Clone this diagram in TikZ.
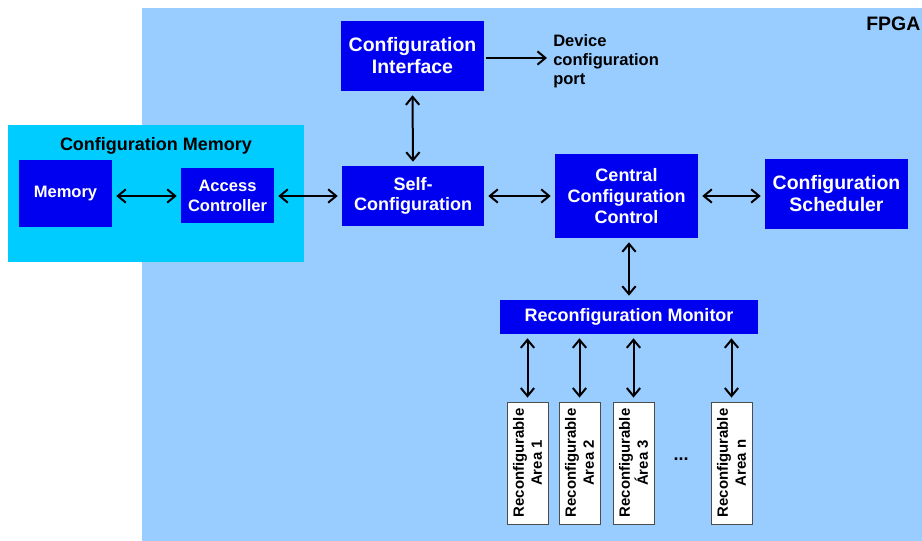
\documentclass[tikz,border=0pt]{standalone}
\usepackage{fontspec}
\setmainfont{Liberation Sans}
\usetikzlibrary{arrows.meta}
\definecolor{fpgabg}{RGB}{153,204,255}
\definecolor{cmembg}{RGB}{0,204,255}
\definecolor{boxblue}{RGB}{0,0,240}
\begin{document}
\begin{tikzpicture}[x=0.75pt,y=-0.75pt,
  bluebox/.style={draw=none,fill=boxblue,text=white,font=\bfseries,align=center,inner sep=0pt},
  areabox/.style={draw=black!70,line width=0.6pt,fill=white,font=\bfseries\fontsize{11.2}{13.5}\selectfont,align=center,inner sep=0pt,rotate=90,minimum width={122*0.75pt},minimum height={41*0.75pt}},
  arr/.style={line width=1.5pt,{Straight Barb[length=6pt,width=10pt]}-{Straight Barb[length=6pt,width=10pt]},shorten <=3pt,shorten >=3pt},
  arrone/.style={line width=1.5pt,-{Straight Barb[length=6pt,width=10pt]},shorten <=1pt}
]
\useasboundingbox (0,0) rectangle (922,541);
\fill[white] (0,0) rectangle (922,541);
\fill[fpgabg] (142,8) rectangle (922,541);
\node[anchor=west,font=\bfseries\fontsize{14.6}{16}\selectfont,inner sep=0pt] (fpga) at (866,24) {FPGA};

% configuration memory
\fill[cmembg] (8,125) rectangle (304,262);
\node[font=\bfseries\fontsize{13.5}{15}\selectfont,inner sep=0pt] (cmtitle) at (156,146) {Configuration Memory};
\node[bluebox,font=\bfseries\fontsize{12.4}{15}\selectfont,minimum width={93*0.75pt},minimum height={67*0.75pt}] (mem) at (65.5,193.5) {Memory};
\node[bluebox,font=\bfseries\fontsize{12.4}{15}\selectfont,minimum width={93*0.75pt},minimum height={55*0.75pt}] (acc) at (227.5,196) {Access\\Controller};

% main blocks
\node[bluebox,font=\bfseries\fontsize{14.6}{16.5}\selectfont,minimum width={143*0.75pt},minimum height={70*0.75pt}] (ci) at (412.5,56) {Configuration\\Interface};
\node[bluebox,font=\bfseries\fontsize{13.5}{15.5}\selectfont,minimum width={142*0.75pt},minimum height={60*0.75pt}] (self) at (413,196) {Self-\\Configuration};
\node[bluebox,font=\bfseries\fontsize{13.5}{15.75}\selectfont,minimum width={143*0.75pt},minimum height={84*0.75pt}] (ccc) at (626.5,196) {Central\\Configuration\\Control};
\node[bluebox,font=\bfseries\fontsize{14.6}{16.5}\selectfont,minimum width={143*0.75pt},minimum height={70*0.75pt}] (sched) at (836.5,194) {Configuration\\Scheduler};
\node[bluebox,font=\bfseries\fontsize{13.5}{15.5}\selectfont,minimum width={258*0.75pt},minimum height={34*0.75pt}] (mon) at (629,317) {Reconfiguration Monitor};

% device configuration port
\coordinate (dport) at (547,58);
\node[anchor=west,align=left,font=\bfseries\fontsize{12.4}{14.25}\selectfont,inner sep=0pt] (dptext) at (553,61) {Device\\configuration\\port};

% reconfigurable areas
\node[areabox] (a1) at (527.5,463) {Reconfigurable\\Area 1};
\node[areabox] (a2) at (579.5,463) {Reconfigurable\\Area 2};
\node[areabox] (a3) at (633.5,463) {Reconfigurable\\Área 3};
\node[areabox] (an) at (731.5,463) {Reconfigurable\\Area n};
\node[font=\bfseries\fontsize{13.5}{15}\selectfont,inner sep=0pt] (dots) at (681,459) {...};

% connectors
\draw[arr] (mem.east |- acc.west) -- (acc.west);
\draw[arr] (acc.east) -- (acc.east -| self.west);
\draw[arr] (self.east) -- (self.east -| ccc.west);
\draw[arr] (ccc.east) -- (ccc.east -| sched.west);
\draw[arr] (ci.south) -- (self.north);
\draw[arr] (ccc.south -| mon.north) -- (mon.north);
\draw[arrone] (ci.east |- dport) -- (dport);
\foreach \a in {a1,a2,a3,an}{
  \draw[arr] (\a.east |- mon.south) -- (\a.east);
}
\end{tikzpicture}
\end{document}
